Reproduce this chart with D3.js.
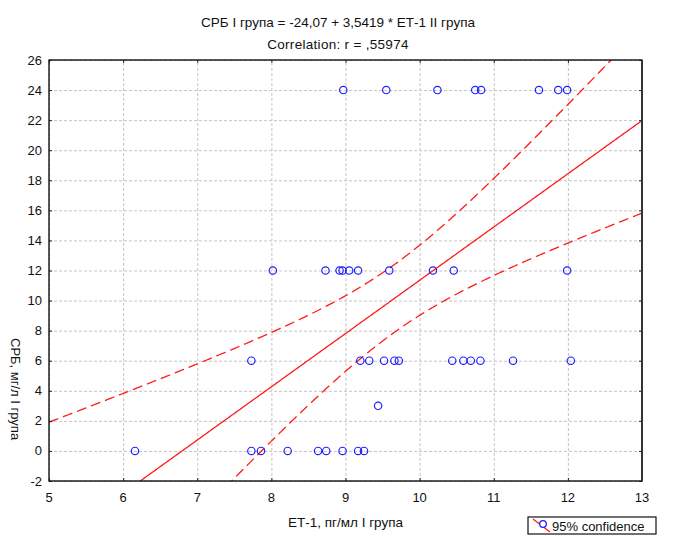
<!DOCTYPE html>
<html>
<head>
<meta charset="utf-8">
<script src="https://cdn.jsdelivr.net/npm/d3@7"></script>
<style>
  body { margin: 0; background: #fff; }
  svg text { font-family: "Liberation Sans", Arial, sans-serif; fill: #111; }
  .grid line { stroke: #c4c4c4; stroke-dasharray: 3,2; }
  .grid .domain { display: none; }
  .axisTicks .domain { display: none; }
  .axisTicks line { stroke: #222; }
</style>
</head>
<body>
<div id="chart"></div>
<script>
// ET-1 (pg/ml) values, grouped by CRP level
var etValues = [
  8.97, 9.55, 10.24, 10.75, 10.83, 11.61, 11.87, 11.99,
  8.02, 8.73, 8.92, 8.96, 9.05, 9.17, 9.59, 10.18, 10.46, 11.99,
  7.73, 9.20, 9.32, 9.52, 9.66, 9.72, 10.44, 10.59, 10.69, 10.82, 11.26, 12.04,
  9.44,
  6.16, 7.73, 7.86, 8.22, 8.63, 8.74, 8.96, 9.17, 9.25
];
var crpValues = [
  24, 24, 24, 24, 24, 24, 24, 24,
  12, 12, 12, 12, 12, 12, 12, 12, 12, 12,
  6, 6, 6, 6, 6, 6, 6, 6, 6, 6, 6, 6,
  3,
  0, 0, 0, 0, 0, 0, 0, 0, 0
];
var xTicks = [5, 6, 7, 8, 9, 10, 11, 12, 13];
var yTicks = [-2, 0, 2, 4, 6, 8, 10, 12, 14, 16, 18, 20, 22, 24, 26];
var fitIntercept = -24.07;
var fitSlope = 3.5419;
var fitR = 0.55974;
var tCrit = 2.024; // t(0.975, n-2)

var titleLine1 = "СРБ I група = -24,07 + 3,5419 * ЕТ-1 II група";
var titleLine2 = "Correlation: r = ,55974";
var xTitle = "ЕТ-1, пг/мл I група";
var yTitle = "СРБ, мг/л I група";
var legendLabel = "95% confidence";

(function () {
  'use strict'
  drawScatter("chart");
})()

function drawScatter(divIdStr){
  var margin = {top: 60, right: 40, bottom: 55, left: 49};
  var width = 642 - margin.left;
  var height = 481 - margin.top;

  var svg = d3.select("#"+divIdStr).append("svg")
      .attr("width", 682)
      .attr("height", 536);
  var g = svg.append("g")
      .attr("transform", "translate(" + margin.left + "," + margin.top + ")");

  var x = d3.scaleLinear().domain([5, 13]).range([0, width]);
  var y = d3.scaleLinear().domain([-2, 26]).range([height, 0]);

  // grid
  g.append("g").attr("class", "grid")
    .attr("transform", "translate(0," + height + ")")
    .call(d3.axisBottom(x).tickValues(xTicks).tickSize(-height).tickFormat(""));
  g.append("g").attr("class", "grid")
    .call(d3.axisLeft(y).tickValues(yTicks).tickSize(-width).tickFormat(""));

  // fit line and 95% confidence band
  var n = etValues.length;
  var xbar = d3.mean(etValues);
  var ybar = d3.mean(crpValues);
  var sxx = d3.sum(etValues, function(v){ return (v - xbar) * (v - xbar); });
  var syy = d3.sum(crpValues, function(v){ return (v - ybar) * (v - ybar); });
  var se = Math.sqrt(syy * (1 - fitR * fitR) / (n - 2));

  var xs = d3.range(5, 13.0001, 0.02);
  var fitPts = xs.map(function(v){ return [v, fitIntercept + fitSlope * v]; });
  var upPts = xs.map(function(v){
    var hw = tCrit * se * Math.sqrt(1 / n + (v - xbar) * (v - xbar) / sxx);
    return [v, fitIntercept + fitSlope * v + hw];
  });
  var loPts = xs.map(function(v){
    var hw = tCrit * se * Math.sqrt(1 / n + (v - xbar) * (v - xbar) / sxx);
    return [v, fitIntercept + fitSlope * v - hw];
  });

  g.append("clipPath").attr("id", "plotClip")
    .append("rect").attr("width", width).attr("height", height);

  var line = d3.line()
    .x(function(d){ return x(d[0]); })
    .y(function(d){ return y(d[1]); });

  var lines = g.append("g").attr("clip-path", "url(#plotClip)");
  lines.append("path").attr("d", line(fitPts))
    .attr("fill", "none").attr("stroke", "#ff1a1a").attr("stroke-width", 1.3);
  [upPts, loPts].forEach(function(pts){
    lines.append("path").attr("d", line(pts))
      .attr("fill", "none").attr("stroke", "#ff1a1a").attr("stroke-width", 1.3)
      .attr("stroke-dasharray", "10,5");
  });

  // points
  g.append("g").selectAll("circle")
    .data(etValues)
    .enter().append("circle")
    .attr("cx", function(d){ return x(d); })
    .attr("cy", function(d, i){ return y(crpValues[i]); })
    .attr("r", 3.7)
    .attr("fill", "none")
    .attr("stroke", "#1f1fff")
    .attr("stroke-width", 1.2);

  // inner ticks on all sides
  g.append("g").attr("class", "axisTicks")
    .attr("transform", "translate(0," + height + ")")
    .call(d3.axisBottom(x).tickValues(xTicks).tickSize(-3).tickFormat(""));
  g.append("g").attr("class", "axisTicks")
    .call(d3.axisTop(x).tickValues(xTicks).tickSize(-3).tickFormat(""));
  g.append("g").attr("class", "axisTicks")
    .call(d3.axisLeft(y).tickValues(yTicks).tickSize(-3).tickFormat(""));
  g.append("g").attr("class", "axisTicks")
    .attr("transform", "translate(" + width + ",0)")
    .call(d3.axisRight(y).tickValues(yTicks).tickSize(-3).tickFormat(""));

  // frame
  g.append("rect").attr("width", width).attr("height", height)
    .attr("fill", "none").attr("stroke", "#111").attr("stroke-width", 1.4);
  g.append("line").attr("x1", width).attr("x2", width).attr("y1", 0).attr("y2", height)
    .attr("stroke", "#333").attr("stroke-width", 2);

  // tick labels
  g.append("g").selectAll("text")
    .data(xTicks)
    .enter().append("text")
    .attr("x", function(d){ return x(d); })
    .attr("y", height + 21)
    .attr("text-anchor", "middle")
    .attr("font-size", "13px")
    .text(function(d){ return d; });
  g.append("g").selectAll("text")
    .data(yTicks)
    .enter().append("text")
    .attr("x", -7)
    .attr("y", function(d){ return y(d) + 4.5; })
    .attr("text-anchor", "end")
    .attr("font-size", "13px")
    .text(function(d){ return d; });

  // titles
  svg.append("text").attr("x", 338).attr("y", 27).attr("text-anchor", "middle")
    .attr("font-size", "13.5px").text(titleLine1);
  svg.append("text").attr("x", 338).attr("y", 49).attr("text-anchor", "middle")
    .attr("font-size", "13.5px").attr("letter-spacing", "0.3px").text(titleLine2);
  svg.append("text").attr("x", margin.left + width / 2).attr("y", 527).attr("text-anchor", "middle")
    .attr("font-size", "13.5px").text(xTitle);
  svg.append("text")
    .attr("transform", "translate(11,338) rotate(90)")
    .attr("font-size", "13px").text(yTitle);

  // legend
  var lg = svg.append("g").attr("transform", "translate(528,517)");
  lg.append("rect").attr("width", 128).attr("height", 17)
    .attr("fill", "#fff").attr("stroke", "#111").attr("stroke-width", 1.2);
  lg.append("line").attr("x1", 5).attr("y1", 2).attr("x2", 22).attr("y2", 15)
    .attr("stroke", "#ff1a1a").attr("stroke-width", 1.3);
  lg.append("circle").attr("cx", 15).attr("cy", 7).attr("r", 3.3)
    .attr("fill", "#fff").attr("stroke", "#1f1fff").attr("stroke-width", 1.3);
  lg.append("text").attr("x", 24).attr("y", 13.5)
    .attr("font-size", "13px").text(legendLabel);
}
</script>
</body>
</html>
